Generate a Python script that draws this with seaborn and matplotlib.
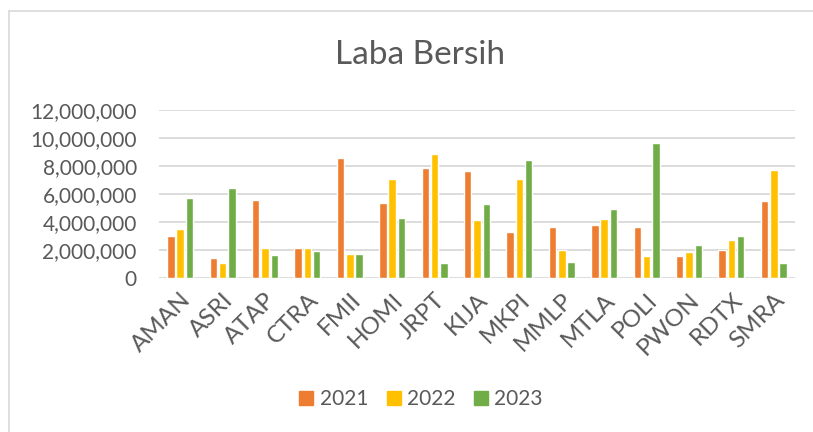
import pandas as pd
import numpy as np
import matplotlib
matplotlib.use("Agg")
import matplotlib.pyplot as plt
from matplotlib.lines import Line2D
from matplotlib.ticker import FuncFormatter
import seaborn as sns

# data
emiten = ["AMAN", "ASRI", "ATAP", "CTRA", "FMII", "HOMI", "JRPT", "KIJA",
          "MKPI", "MMLP", "MTLA", "POLI", "PWON", "RDTX", "SMRA"]
laba_2021 = [3020000, 1400000, 5550000, 2120000, 8550000, 5330000, 7860000, 7640000,
             3260000, 3670000, 3810000, 3620000, 1570000, 1980000, 5500000]
laba_2022 = [3480000, 1100000, 2140000, 2120000, 1740000, 7050000, 8830000, 4120000,
             7050000, 1980000, 4190000, 1570000, 1830000, 2690000, 7740000]
laba_2023 = [5710000, 6400000, 1640000, 1930000, 1740000, 4310000, 1050000, 5310000,
             8450000, 1140000, 4950000, 9670000, 2380000, 3020000, 1050000]
tahun = ["2021", "2022", "2023"]
warna = ["#ED7D31", "#FFC000", "#70AD47"]

df = pd.DataFrame({"Emiten": emiten, "2021": laba_2021, "2022": laba_2022, "2023": laba_2023})
df_long = df.melt(id_vars="Emiten", var_name="Tahun", value_name="Laba")

sns.set_style("white")
plt.rcParams["font.family"] = ["Lato", "DejaVu Sans"]
teks = "#595959"
grid = "#D9D9D9"

fig = plt.figure(figsize=(8.13, 4.32), dpi=100)
ax = fig.add_axes([159 / 813, 1 - 278 / 432, (795 - 159) / 813, 168 / 432])

sns.barplot(data=df_long, x="Emiten", y="Laba", hue="Tahun", palette=warna,
            saturation=1, width=0.66, gap=0.2, ax=ax, legend=False)

ax.set_ylim(0, 12000000)
ax.set_xlim(-0.5, len(emiten) - 0.5)
ax.set_yticks(np.arange(0, 12000001, 2000000))
ax.yaxis.set_major_formatter(FuncFormatter(lambda v, p: f"{int(v):,}"))
ax.grid(axis="y", color=grid, linewidth=1.3)
ax.set_axisbelow(True)
for s in ax.spines.values():
    s.set_visible(False)
ax.set_xlabel("")
ax.set_ylabel("")
ax.tick_params(axis="both", length=0, labelcolor=teks)
ax.tick_params(axis="y", pad=16, labelsize=15)
ax.tick_params(axis="x", pad=8, labelsize=17.5)
plt.setp(ax.get_xticklabels(), rotation=45, ha="right", rotation_mode="anchor")

fig.text(0.517, 0.873, "Laba Bersih", ha="center", va="center", fontsize=24, color=teks)

handles = [plt.Rectangle((0, 0), 1, 1, color=c) for c in warna]
fig.legend(handles, tahun, loc="center", bbox_to_anchor=(0.518, 0.076), ncol=3,
           frameon=False, fontsize=15, labelcolor=teks, handlelength=0.67,
           handleheight=0.67, handletextpad=0.3, columnspacing=0.9)

# chart border (only top and left are visible in the crop)
fig.add_artist(Line2D([9 / 813, 9 / 813], [0, 1 - 11 / 432], color=grid, lw=1.2))
fig.add_artist(Line2D([9 / 813, 1], [1 - 11 / 432, 1 - 11 / 432], color=grid, lw=1.2))

fig.savefig("out.png", dpi=100)
